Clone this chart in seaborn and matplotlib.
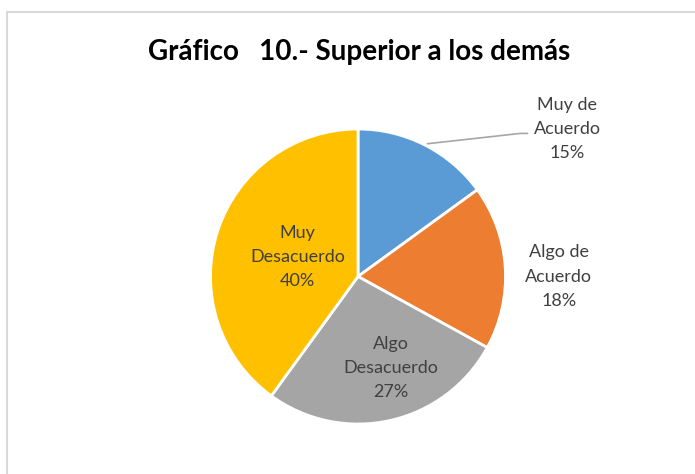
import numpy as np
import matplotlib
matplotlib.use("Agg")
import matplotlib.pyplot as plt
import seaborn as sns

# data
categories = ["Muy de\nAcuerdo", "Algo de\nAcuerdo", "Algo\nDesacuerdo", "Muy\nDesacuerdo"]
percents = [15, 18, 27, 40]
colors = ["#5B9BD5", "#ED7D31", "#A5A5A5", "#FFC000"]

# label anchor points, in pie-radius units
label_pos = [(1.42, 1.0), (1.36, 0.0), (0.22, -0.62), (-0.41, 0.13)]

sns.set_theme(style="white")
plt.rcParams["font.family"] = ["Lato", "DejaVu Sans"]

fig = plt.figure(figsize=(6.95, 4.74), dpi=100)
ax = fig.add_axes([0, 0, 1, 1])

wedges, _ = ax.pie(percents, colors=colors, startangle=90, counterclock=False,
                   wedgeprops=dict(edgecolor="white", linewidth=2))

# pie centre at (358, 276.5) px, radius 147.5 px
r_px = 147.5
ax.set_xlim(-358 / r_px, (695 - 358) / r_px)
ax.set_ylim(-(474 - 276.5) / r_px, 276.5 / r_px)
ax.set_aspect("equal")
ax.axis("off")

for lab, pct, (x, y) in zip(categories, percents, label_pos):
    ax.text(x, y, "{}\n{}%".format(lab, pct), ha="center", va="center",
            fontsize=13, color="#404040", linespacing=1.62)

# leader line for the first slice
ax.plot([0.47, 1.10, 1.15], [0.90, 0.97, 0.97], color="#A6A6A6", lw=1.2)

fig.text(359 / 695, 1 - 52 / 474, "Gráfico   10.- Superior a los demás",
         ha="center", va="center", fontsize=20, fontweight="bold", color="black")

# chart area border (top and left visible)
fig.add_artist(plt.Line2D([7 / 695, 1], [1 - 12 / 474] * 2, color="#D9D9D9", lw=1.5))
fig.add_artist(plt.Line2D([7 / 695] * 2, [0, 1 - 12 / 474], color="#D9D9D9", lw=1.5))

fig.savefig("out.png", dpi=100)
